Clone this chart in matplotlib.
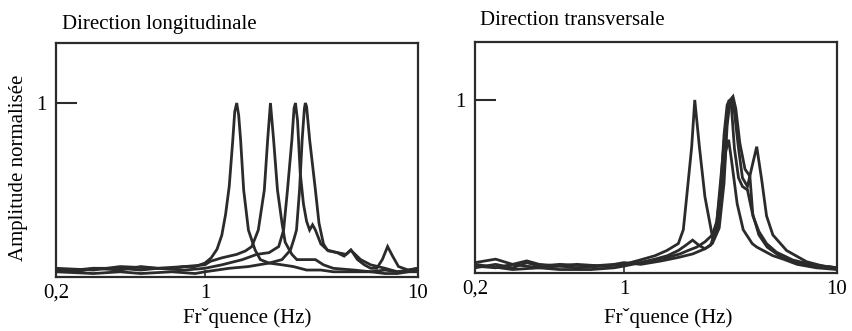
import matplotlib
matplotlib.use("Agg")
import matplotlib.pyplot as plt

plt.rcParams['font.family'] = ['Liberation Serif', 'DejaVu Serif']

# ---- Data: left panel (Direction longitudinale) ----
L1_f = [0.2, 0.25, 0.3, 0.4, 0.5, 0.6, 0.7, 0.8, 0.9, 1.0, 1.07, 1.14, 1.2, 1.25, 1.3, 1.35, 1.38, 1.41, 1.44, 1.47, 1.52, 1.6, 1.72, 1.82, 2.0, 2.3, 2.6, 3.0, 3.5, 4.0, 5.0, 6.0, 7.0, 8.0, 9.0, 10.0]
L1_a = [0.04, 0.03, 0.05, 0.05, 0.04, 0.05, 0.05, 0.06, 0.06, 0.08, 0.11, 0.16, 0.24, 0.36, 0.52, 0.78, 0.95, 1.0, 0.93, 0.79, 0.5, 0.27, 0.155, 0.10, 0.08, 0.07, 0.06, 0.04, 0.04, 0.03, 0.03, 0.03, 0.02, 0.02, 0.03, 0.04]

L2_f = [0.2, 0.3, 0.4, 0.5, 0.6, 0.8, 1.0, 1.06, 1.2, 1.41, 1.55, 1.66, 1.78, 1.9, 1.97, 2.03, 2.1, 2.19, 2.3, 2.38, 2.48, 2.56, 2.7, 3.0, 3.3, 3.6, 4.0, 5.0, 6.0, 7.0, 8.0, 10.0]
L2_a = [0.03, 0.05, 0.04, 0.06, 0.05, 0.06, 0.07, 0.09, 0.11, 0.13, 0.15, 0.175, 0.27, 0.50, 0.79, 1.0, 0.79, 0.50, 0.31, 0.20, 0.16, 0.13, 0.10, 0.10, 0.10, 0.07, 0.05, 0.04, 0.03, 0.04, 0.03, 0.03]

L3_f = [0.2, 0.3, 0.4, 0.6, 0.8, 1.0, 1.2, 1.5, 1.75, 2.0, 2.22, 2.34, 2.44, 2.56, 2.62, 2.66, 2.72, 2.8, 2.9, 3.0, 3.1, 3.2, 3.3, 3.5, 3.8, 4.2, 4.6, 4.85, 5.2, 5.6, 6.0, 6.4, 6.8, 7.2, 7.6, 8.1, 9.0, 10.0]
L3_a = [0.05, 0.04, 0.06, 0.05, 0.04, 0.05, 0.07, 0.10, 0.13, 0.14, 0.175, 0.27, 0.50, 0.79, 0.97, 1.0, 0.9, 0.6, 0.42, 0.32, 0.27, 0.30, 0.27, 0.19, 0.15, 0.14, 0.13, 0.155, 0.10, 0.07, 0.05, 0.05, 0.10, 0.175, 0.12, 0.06, 0.04, 0.05]

L4_f = [0.2, 0.3, 0.4, 0.5, 0.7, 0.9, 1.0, 1.3, 1.6, 2.0, 2.3, 2.52, 2.62, 2.69, 2.78, 2.86, 2.93, 2.96, 3.0, 3.1, 3.3, 3.43, 3.6, 3.75, 4.17, 4.5, 4.83, 5.38, 6.0, 7.0, 8.0, 9.0, 10.0]
L4_a = [0.03, 0.02, 0.03, 0.02, 0.03, 0.02, 0.03, 0.05, 0.06, 0.08, 0.10, 0.155, 0.22, 0.27, 0.50, 0.79, 0.97, 1.0, 0.98, 0.79, 0.50, 0.31, 0.19, 0.155, 0.14, 0.12, 0.155, 0.10, 0.07, 0.05, 0.03, 0.04, 0.05]

# ---- Data: right panel (Direction transversale) ----
R1_f = [0.2, 0.25, 0.3, 0.35, 0.4, 0.5, 0.6, 0.8, 1.0, 1.19, 1.4, 1.59, 1.8, 1.9, 1.97, 2.08, 2.15, 2.26, 2.4, 2.53, 2.62, 2.75, 2.9, 3.0, 3.1, 3.2, 3.4, 3.63, 4.0, 4.2, 5.0, 5.6, 6.5, 8.0, 10.0]
R1_a = [0.06, 0.08, 0.05, 0.07, 0.05, 0.04, 0.05, 0.04, 0.05, 0.075, 0.10, 0.13, 0.17, 0.25, 0.44, 0.73, 1.0, 0.73, 0.44, 0.29, 0.19, 0.25, 0.50, 0.70, 0.77, 0.65, 0.40, 0.25, 0.17, 0.15, 0.10, 0.08, 0.05, 0.03, 0.02]

R2_f = [0.2, 0.25, 0.3, 0.4, 0.5, 0.6, 0.8, 1.0, 1.2, 1.37, 1.6, 1.83, 2.0, 2.2, 2.4, 2.6, 2.73, 2.85, 3.0, 3.1, 3.2, 3.3, 3.45, 3.6, 3.8, 4.0, 4.2, 4.43, 4.67, 5.0, 5.8, 7.2, 8.6, 10.0]
R2_a = [0.04, 0.03, 0.05, 0.03, 0.04, 0.03, 0.04, 0.05, 0.06, 0.075, 0.09, 0.11, 0.13, 0.15, 0.18, 0.22, 0.30, 0.55, 0.85, 0.98, 1.0, 0.93, 0.72, 0.55, 0.50, 0.62, 0.73, 0.54, 0.33, 0.22, 0.13, 0.065, 0.04, 0.03]

R3_f = [0.2, 0.25, 0.3, 0.35, 0.4, 0.5, 0.7, 0.9, 1.0, 1.2, 1.5, 1.8, 2.1, 2.4, 2.6, 2.8, 2.95, 3.05, 3.15, 3.25, 3.35, 3.5, 3.7, 3.9, 4.03, 4.3, 4.67, 5.2, 6.2, 7.5, 10.0]
R3_a = [0.03, 0.05, 0.03, 0.06, 0.04, 0.05, 0.04, 0.05, 0.06, 0.05, 0.07, 0.09, 0.11, 0.14, 0.17, 0.26, 0.52, 0.85, 1.0, 1.02, 0.95, 0.75, 0.60, 0.56, 0.33, 0.24, 0.17, 0.12, 0.075, 0.05, 0.03]

R4_f = [0.2, 0.3, 0.4, 0.5, 0.7, 0.9, 1.0, 1.2, 1.4, 1.6, 1.8, 1.95, 2.1, 2.25, 2.4, 2.55, 2.7, 2.85, 2.95, 3.05, 3.12, 3.2, 3.3, 3.45, 3.6, 3.8, 4.0, 4.3, 4.7, 5.5, 7.0, 10.0]
R4_a = [0.05, 0.02, 0.03, 0.02, 0.02, 0.03, 0.04, 0.06, 0.08, 0.10, 0.13, 0.16, 0.19, 0.16, 0.14, 0.16, 0.25, 0.50, 0.80, 0.97, 1.0, 0.95, 0.72, 0.55, 0.50, 0.48, 0.35, 0.22, 0.15, 0.09, 0.05, 0.03]

x_ticks = [0.2, 1, 10]
x_ticklabels = ['0,2', '1', '10']
y_ticks = [1]
y_ticklabels = ['1']
titles = ['Direction longitudinale', 'Direction transversale']
xlabel = 'Frˇquence (Hz)'
ylabel = 'Amplitude normalisée'

left_series = [(L1_f, L1_a), (L2_f, L2_a), (L3_f, L3_a), (L4_f, L4_a)]
right_series = [(R1_f, R1_a), (R2_f, R2_a), (R3_f, R3_a), (R4_f, R4_a)]

W, H = 852, 331
fig = plt.figure(figsize=(W / 100, H / 100), dpi=100)
line_color = '#2b2b2b'
FS = 15

def px_rect(x0, y0, x1, y1):
    return [x0 / W, 1 - y1 / H, (x1 - x0) / W, (y1 - y0) / H]

ax1 = fig.add_axes(px_rect(56, 43, 418, 277))
ax2 = fig.add_axes(px_rect(475, 42, 837, 273))

for ax, series, ytop in [(ax1, left_series, 1.345), (ax2, right_series, 1.335)]:
    for f, a in series:
        ax.plot(f, a, color=line_color, lw=2.0, solid_joinstyle='miter')
    ax.set_xscale('log')
    ax.set_xlim(0.2, 10)
    ax.set_ylim(0, ytop)
    ax.set_xticks(x_ticks)
    ax.set_xticklabels(x_ticklabels)
    ax.minorticks_off()
    ax.set_yticks(y_ticks)
    ax.set_yticklabels(y_ticklabels)
    ax.tick_params(axis='y', direction='in', length=15, width=1.5, pad=7, labelsize=FS, color=line_color)
    ax.tick_params(axis='x', direction='in', length=5, width=1.2, pad=5, labelsize=FS, color=line_color)
    for sp in ax.spines.values():
        sp.set_linewidth(1.6)
        sp.set_color(line_color)

fig.text(62 / W, 1 - 29 / H, titles[0], fontsize=FS, ha='left', va='baseline')
fig.text(480 / W, 1 - 25 / H, titles[1], fontsize=FS, ha='left', va='baseline')
fig.text(247 / W, 1 - 323 / H, xlabel, fontsize=FS, ha='center', va='baseline')
fig.text(668 / W, 1 - 323 / H, xlabel, fontsize=FS, ha='center', va='baseline')
fig.text(19 / W, 1 - 168 / H, ylabel, fontsize=FS, ha='center', va='center', rotation=90)

fig.savefig('out.png', dpi=100)
